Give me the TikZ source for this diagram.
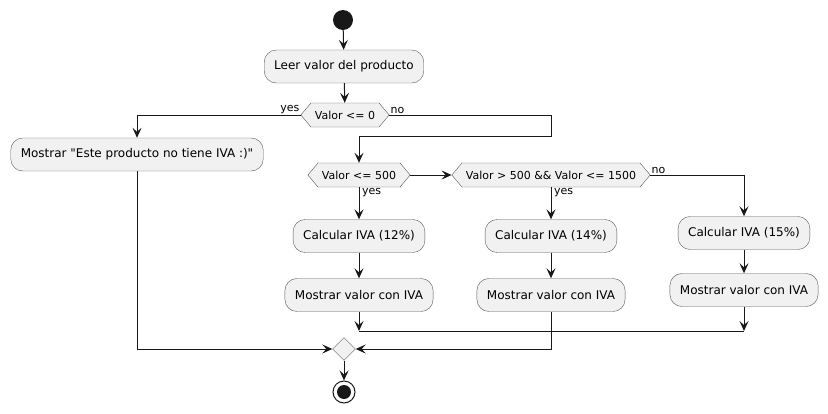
\documentclass[tikz,border=0pt]{standalone}
\usepackage{fontspec}
\newfontfamily\plano{DejaVu Sans}
\usepackage{tikz}
\usetikzlibrary{shapes,positioning,calc}
\usetikzlibrary{shapes.geometric}
\usetikzlibrary{arrows.meta}
\definecolor{actfill}{HTML}{F1F1F1}
\definecolor{actline}{HTML}{181818}
\definecolor{actborder}{HTML}{5A5A5A}
\tikzstyle{accion} = [rectangle, rounded corners=12pt, minimum height=33pt, inner xsep=10pt, fill=actfill, draw=actborder, font=\plano\fontsize{12}{14}\selectfont]
\tikzstyle{decision} = [signal, signal to=west and east, signal pointer angle=100, minimum height=24pt, inner xsep=4pt, fill=actfill, draw=actborder, font=\plano\fontsize{11}{13}\selectfont]
\tikzstyle{union} = [diamond, minimum size=23pt, inner sep=0pt, fill=actfill, draw=actborder]
\tikzstyle{etiq} = [font=\plano\fontsize{11}{13}\selectfont, inner sep=1pt]
\tikzstyle{arrow} = [line width=1pt, draw=actline, -{Stealth[length=10pt,width=9pt,inset=4pt]}]
\tikzstyle{linea} = [line width=1pt, draw=actline]

\begin{document}
\begin{tikzpicture}[x=1pt, y=-1pt]
				\useasboundingbox (0,0) rectangle (828,413);
				\node[circle, fill=actline, minimum size=20pt, inner sep=0pt] (inicio) at (343,20) {};
				\node (leer) at (344,66.5) [accion] {Leer valor del producto};
				\node (d0) at (345,115) [decision] {Valor <= 0};
				\node (mcero) at (137,154.5) [accion] {Mostrar "Este producto no tiene IVA :)"};
				\node (d500) at (359,175) [decision] {Valor <= 500};
				\node (d1500) at (551,175) [decision] {Valor > 500 \&\& Valor <= 1500};
				\node (c12) at (359,236) [accion] {Calcular IVA (12\%)};
				\node (m12) at (359,295) [accion] {Mostrar valor con IVA};
				\node (c14) at (551,236) [accion] {Calcular IVA (14\%)};
				\node (m14) at (551,295) [accion] {Mostrar valor con IVA};
				\node (c15) at (744,233) [accion] {Calcular IVA (15\%)};
				\node (m15) at (744,290) [accion] {Mostrar valor con IVA};
				\node (fin) at (344,349) [union] {};
				\node[circle, draw=actline, line width=1pt, minimum size=22pt, inner sep=0pt] (final) at (344,392) {};
				\node[circle, fill=actline, minimum size=14pt, inner sep=0pt] (finalin) at (final) {};
				\coordinate (vuelta) at (551,136);
				\coordinate (junta1) at (359,331);
				\coordinate (junta2) at (744,331);
				\draw[arrow] (inicio) -- (leer);
				\draw[arrow] (leer) -- (d0);
				\draw[arrow] (d0.west) -| (mcero.north);
				\node[etiq, above left] (si0) at (d0.west) {yes};
				\draw[arrow] (d0.east) -| (vuelta) -| (d500.north);
				\node[etiq, above right] (no0) at (d0.east) {no};
				\draw[arrow] (d500.east) -- (d1500.west);
				\draw[arrow] (d500.south) -- (c12.north);
				\node[etiq, below right, xshift=2pt] (si500) at (d500.south) {yes};
				\draw[arrow] (c12) -- (m12);
				\draw[arrow] (d1500.south) -- (c14.north);
				\node[etiq, below right, xshift=2pt] (si1500) at (d1500.south) {yes};
				\draw[arrow] (c14) -- (m14);
				\draw[arrow] (d1500.east) -| (c15.north);
				\node[etiq, above right] (no1500) at (d1500.east) {no};
				\draw[arrow] (c15) -- (m15);
				\draw[arrow] (m12) -- (junta1);
				\draw[arrow] (m15) -- (junta2);
				\draw[linea] (junta1) -- (junta2);
				\draw[arrow] (m14) |- (fin.east);
				\draw[arrow] (mcero) |- (fin.west);
				\draw[arrow] (fin) -- (final);
\end{tikzpicture}
\end{document}
